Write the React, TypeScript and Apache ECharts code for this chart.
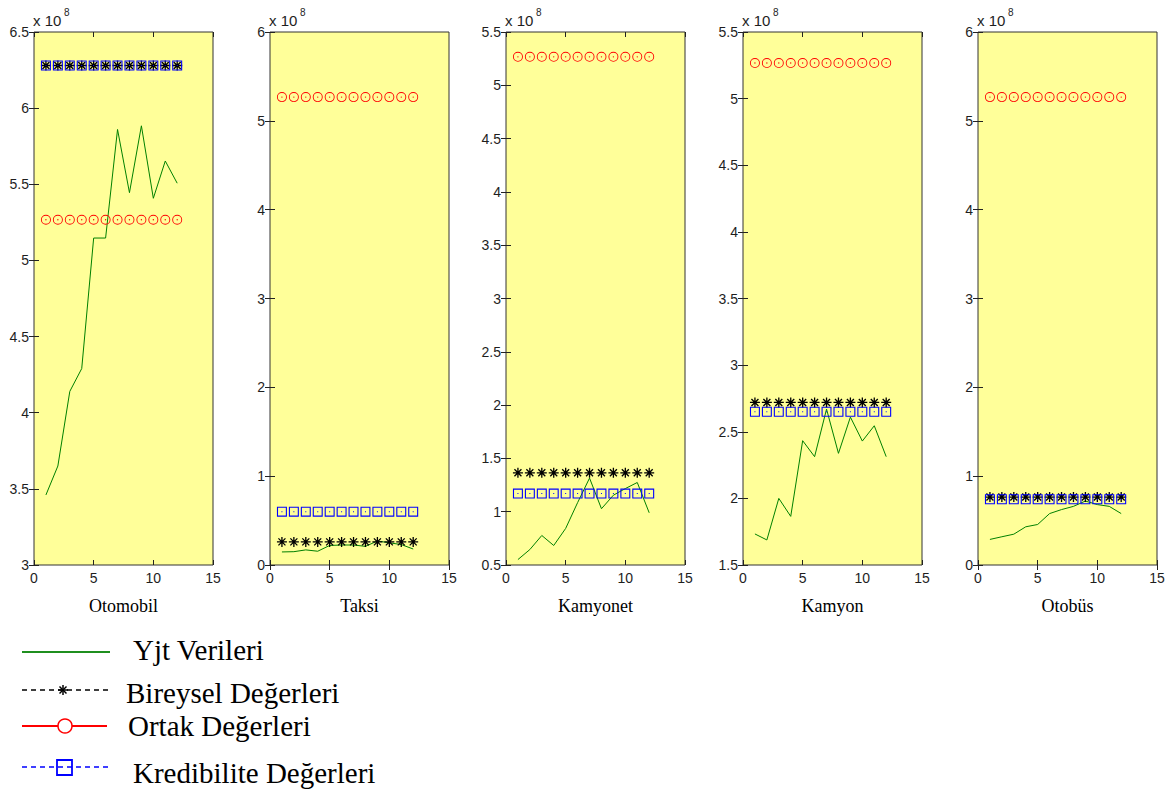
import React, { useEffect, useRef } from "react";
import * as echarts from "echarts";

// ---- data (values in units of 10^8) ----
const X = [1, 2, 3, 4, 5, 6, 7, 8, 9, 10, 11, 12];
const PANEL_NAMES = ["Otomobil", "Taksi", "Kamyonet", "Kamyon", "Otobüs"];
const YJT_OTOMOBIL = [3.46, 3.65, 4.14, 4.29, 5.147, 5.147, 5.86, 5.445, 5.884, 5.408, 5.653, 5.507];
const YJT_TAKSI = [0.147, 0.15, 0.17, 0.155, 0.22, 0.225, 0.225, 0.21, 0.27, 0.25, 0.23, 0.18];
const YJT_KAMYONET = [0.551, 0.645, 0.777, 0.683, 0.843, 1.085, 1.315, 1.028, 1.155, 1.217, 1.274, 0.99];
const YJT_KAMYON = [1.733, 1.688, 2.0, 1.865, 2.433, 2.313, 2.67, 2.338, 2.61, 2.43, 2.545, 2.313];
const YJT_OTOBUS = [0.288, 0.318, 0.347, 0.43, 0.456, 0.579, 0.624, 0.66, 0.72, 0.68, 0.66, 0.579];
const BIREYSEL = [6.28, 0.26, 1.365, 2.72, 0.765];
const ORTAK = [5.267, 5.267, 5.267, 5.267, 5.267];
const KREDIBILITE = [6.28, 0.6, 1.17, 2.65, 0.74];
const Y_MIN = [3, 0, 0.5, 1.5, 0];
const Y_MAX = [6.5, 6, 5.5, 5.5, 6];
const Y_STEP = [0.5, 1, 0.5, 0.5, 1];
const X_MIN = 0;
const X_MAX = 15;
const X_STEP = 5;
const LEGEND_LABELS = ["Yjt Verileri", "Bireysel Değerleri", "Ortak Değerleri", "Kredibilite Değerleri"];

const YJT = [YJT_OTOMOBIL, YJT_TAKSI, YJT_KAMYONET, YJT_KAMYON, YJT_OTOBUS];

// ---- layout / style ----
const GRID_LEFT = [34, 270, 506, 743, 978];
const GRID_W = 179;
const GRID_TOP = 32;
const GRID_H = 533;
const SANS = "Liberation Sans, Arial, sans-serif";
const SERIF = "Liberation Serif, Times New Roman, serif";
const TICK_COLOR = "#1e1e1e";

const STAR = "path://M10 0 L10 20 M0 10 L20 10 M3 3 L17 17 M3 17 L17 3";
const RING_DOT =
  "path://M10 0 A10 10 0 1 1 10 20 A10 10 0 1 1 10 0 Z M10 1.8 A8.2 8.2 0 1 0 10 18.2 A8.2 8.2 0 1 0 10 1.8 Z M10 8.6 A1.4 1.4 0 1 1 10 11.4 A1.4 1.4 0 1 1 10 8.6 Z";
const SQUARE_DOT =
  "path://M0 0 L20 0 L20 20 L0 20 Z M2.2 2.2 L2.2 17.8 L17.8 17.8 L17.8 2.2 Z M9 9 L11 9 L11 11 L9 11 Z";

function buildOption() {
  const grid: any[] = [];
  const xAxis: any[] = [];
  const yAxis: any[] = [];
  const series: any[] = [];
  const graphic: any[] = [];

  const tick = { show: true, inside: true, length: 5, lineStyle: { color: "#222", width: 1 } };

  PANEL_NAMES.forEach((name, i) => {
    grid.push({
      left: GRID_LEFT[i],
      top: GRID_TOP,
      width: GRID_W,
      height: GRID_H,
      show: true,
      backgroundColor: "#ffff99",
      borderColor: "#333",
      borderWidth: 1,
      outerBoundsMode: "none",
    });
    xAxis.push({
      gridIndex: i,
      type: "value",
      min: X_MIN,
      max: X_MAX,
      interval: X_STEP,
      position: "bottom",
      axisLine: { show: false },
      axisTick: tick,
      splitLine: { show: false },
      axisLabel: { margin: 6, fontSize: 14, fontFamily: SANS, color: TICK_COLOR },
      name,
      nameLocation: "middle",
      nameGap: 32,
      nameTextStyle: { fontFamily: SERIF, fontSize: 18, color: "#000" },
    });
    xAxis.push({
      gridIndex: i,
      type: "value",
      min: X_MIN,
      max: X_MAX,
      interval: X_STEP,
      position: "top",
      axisLine: { show: false },
      axisTick: tick,
      splitLine: { show: false },
      axisLabel: { show: false },
    });
    yAxis.push({
      gridIndex: i,
      type: "value",
      min: Y_MIN[i],
      max: Y_MAX[i],
      interval: Y_STEP[i],
      position: "left",
      axisLine: { show: false },
      axisTick: tick,
      splitLine: { show: false },
      axisLabel: { margin: 5, fontSize: 14, fontFamily: SANS, color: TICK_COLOR },
    });
    yAxis.push({
      gridIndex: i,
      type: "value",
      min: Y_MIN[i],
      max: Y_MAX[i],
      interval: Y_STEP[i],
      position: "right",
      axisLine: { show: false },
      axisTick: tick,
      splitLine: { show: false },
      axisLabel: { show: false },
    });

    const xi = 2 * i;
    const yi = 2 * i;
    series.push({
      type: "line",
      name: LEGEND_LABELS[0],
      xAxisIndex: xi,
      yAxisIndex: yi,
      data: X.map((x, j) => [x, YJT[i][j]]),
      symbol: "none",
      showSymbol: false,
      lineStyle: { color: "#008000", width: 1 },
      z: 2,
    });
    series.push({
      type: "scatter",
      name: LEGEND_LABELS[1],
      xAxisIndex: xi,
      yAxisIndex: yi,
      data: X.map((x) => [x, BIREYSEL[i]]),
      symbol: STAR,
      symbolSize: 10,
      itemStyle: { color: "rgba(0,0,0,0)", borderColor: "#000", borderWidth: 1.3, opacity: 1 },
      z: 3,
    });
    series.push({
      type: "scatter",
      name: LEGEND_LABELS[2],
      xAxisIndex: xi,
      yAxisIndex: yi,
      data: X.map((x) => [x, ORTAK[i]]),
      symbol: RING_DOT,
      symbolSize: 10,
      itemStyle: { color: "#ff0000", opacity: 1 },
      z: 3,
    });
    series.push({
      type: "scatter",
      name: LEGEND_LABELS[3],
      xAxisIndex: xi,
      yAxisIndex: yi,
      data: X.map((x) => [x, KREDIBILITE[i]]),
      symbol: SQUARE_DOT,
      symbolSize: 10,
      itemStyle: { color: "#0000ff", opacity: 1 },
      z: 3,
    });

    // "x 10^8" exponent label
    graphic.push({
      type: "text",
      x: GRID_LEFT[i] - 1,
      y: 20,
      style: { text: "x 10", fontSize: 15, fontFamily: SANS, fill: TICK_COLOR, verticalAlign: "middle" },
    });
    graphic.push({
      type: "text",
      x: GRID_LEFT[i] + 30,
      y: 12,
      style: { text: "8", fontSize: 10, fontFamily: SANS, fill: TICK_COLOR, verticalAlign: "middle" },
    });
  });

  // ---- legend (bottom-left) ----
  const legFont = { fontSize: 29, fontFamily: SERIF, fill: "#000", verticalAlign: "middle" };
  // Yjt
  graphic.push({ type: "line", shape: { x1: 22, y1: 652, x2: 110, y2: 652 }, style: { stroke: "#1f8f1f", lineWidth: 2 } });
  graphic.push({ type: "text", x: 133, y: 650, style: { ...legFont, text: LEGEND_LABELS[0] } });
  // Bireysel
  graphic.push({ type: "line", shape: { x1: 22, y1: 690, x2: 108, y2: 690 }, style: { stroke: "#000", lineWidth: 1.5, lineDash: [5, 4] } });
  const sx = 63, sy = 690;
  [[0, -5, 0, 5], [-5, 0, 5, 0], [-3.5, -3.5, 3.5, 3.5], [-3.5, 3.5, 3.5, -3.5]].forEach((l) => {
    graphic.push({ type: "line", shape: { x1: sx + l[0], y1: sy + l[1], x2: sx + l[2], y2: sy + l[3] }, style: { stroke: "#000", lineWidth: 1.5 } });
  });
  graphic.push({ type: "text", x: 126, y: 693, style: { ...legFont, text: LEGEND_LABELS[1] } });
  // Ortak
  graphic.push({ type: "line", shape: { x1: 22, y1: 726, x2: 107, y2: 726 }, style: { stroke: "#ff0000", lineWidth: 2 } });
  graphic.push({ type: "circle", shape: { cx: 65, cy: 726, r: 7 }, style: { fill: "#fff", stroke: "#ff0000", lineWidth: 1.5 } });
  graphic.push({ type: "text", x: 128, y: 726, style: { ...legFont, text: LEGEND_LABELS[2] } });
  // Kredibilite
  graphic.push({ type: "line", shape: { x1: 22, y1: 767, x2: 108, y2: 767 }, style: { stroke: "#0000ff", lineWidth: 1.5, lineDash: [5, 4] } });
  graphic.push({ type: "rect", shape: { x: 57, y: 760, width: 15, height: 15 }, style: { fill: "none", stroke: "#0000ff", lineWidth: 1.8 } });
  graphic.push({ type: "text", x: 133, y: 773, style: { ...legFont, text: LEGEND_LABELS[3] } });

  return {
    animation: false,
    backgroundColor: "#fff",
    grid,
    xAxis,
    yAxis,
    series,
    graphic,
  };
}

export default function App() {
  const ref = useRef<HTMLDivElement>(null);
  useEffect(() => {
    if (!ref.current) return;
    const chart = echarts.init(ref.current, undefined, { renderer: "svg" });
    chart.setOption(buildOption() as any);
    return () => chart.dispose();
  }, []);
  return (
    <div
      ref={ref}
      style={{ position: "absolute", left: 0, top: 0, width: 1171, height: 791 }}
    />
  );
}
